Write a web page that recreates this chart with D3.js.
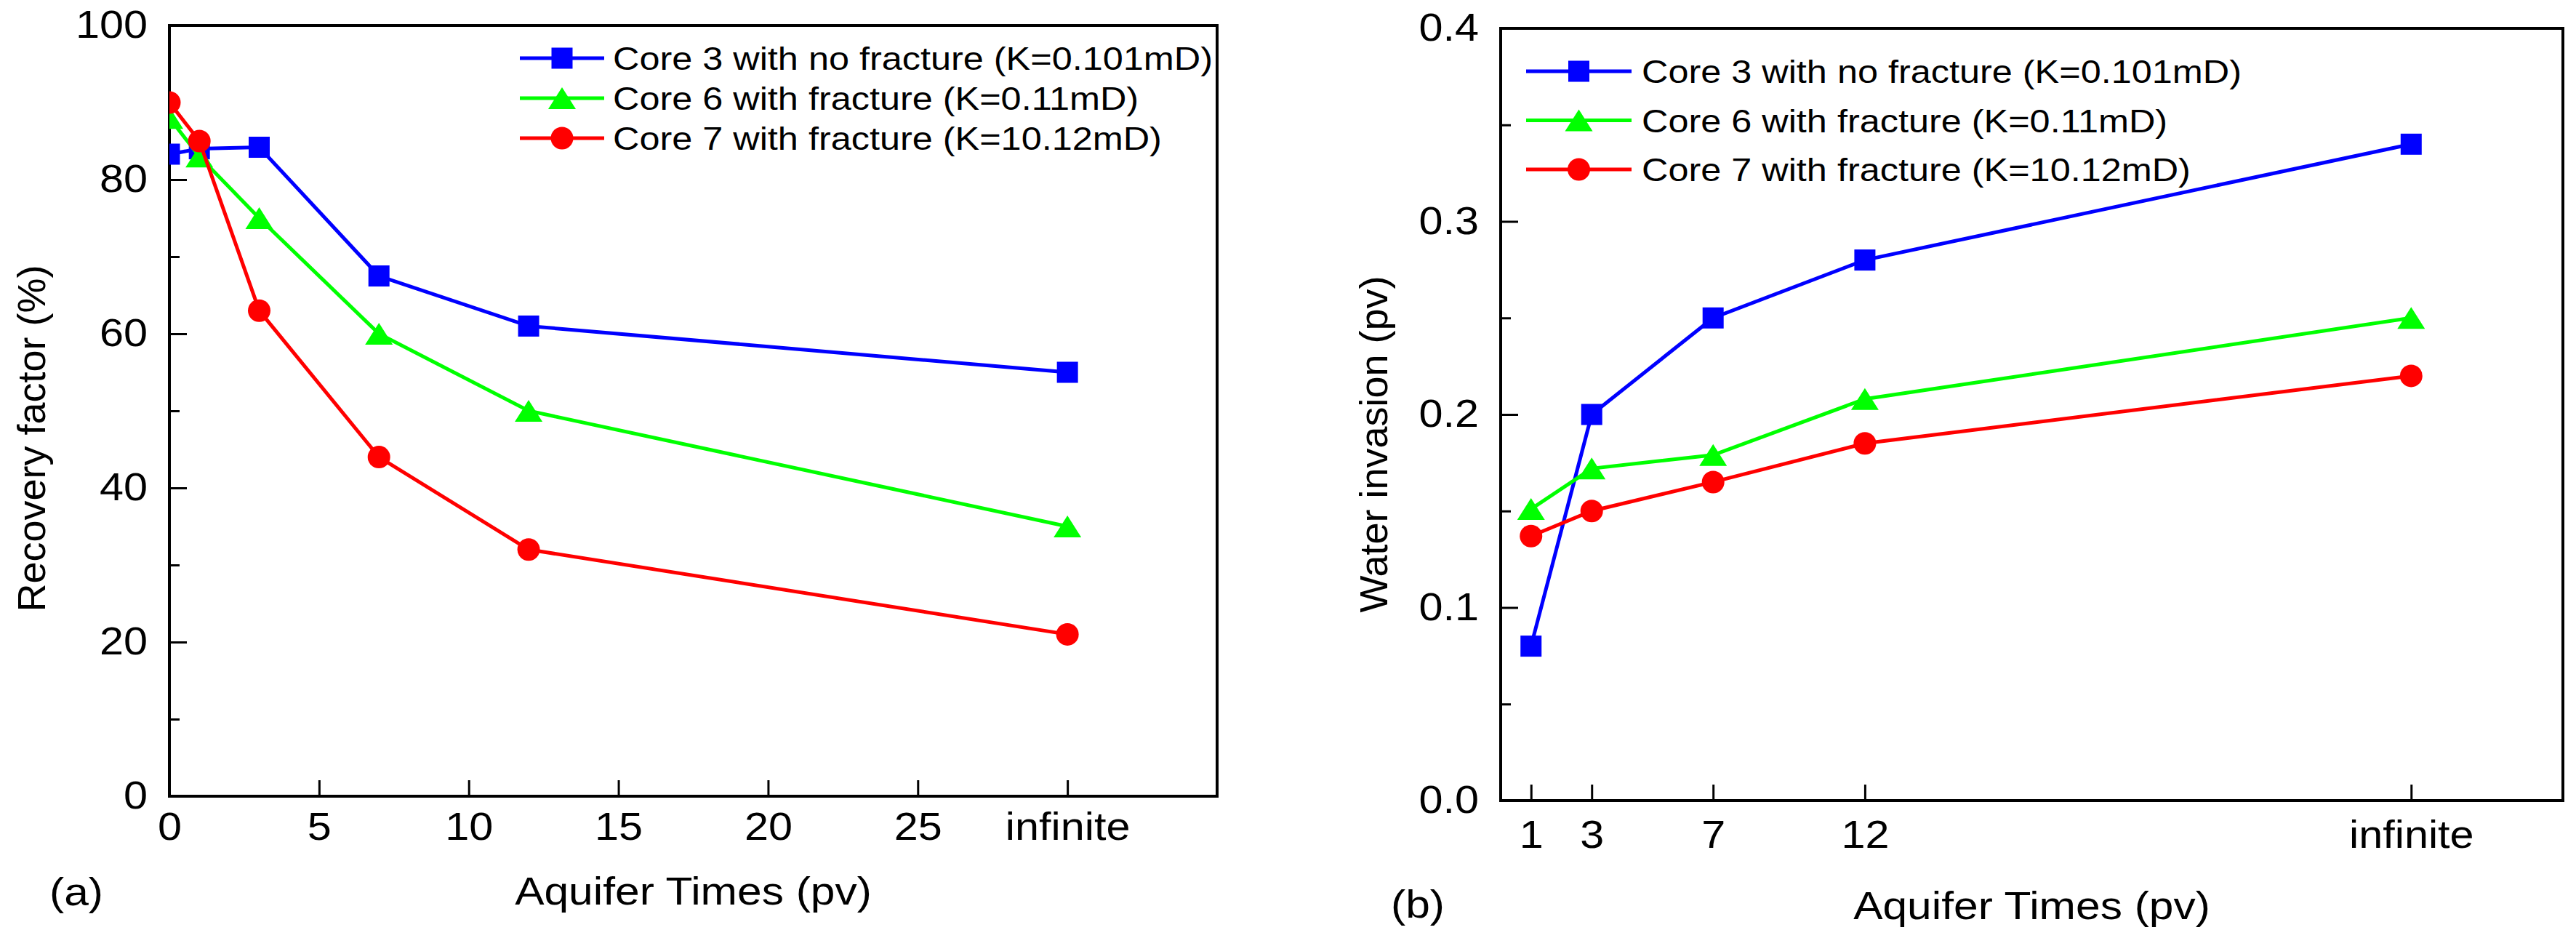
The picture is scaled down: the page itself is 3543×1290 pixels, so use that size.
<!DOCTYPE html>
<html>
<head>
<meta charset="utf-8">
<script src="https://cdn.jsdelivr.net/npm/d3@7"></script>
<style>
  body { margin: 0; background: #fff; }
  text { font-family: "Liberation Sans", Arial, sans-serif; fill: #000; }
</style>
</head>
<body>
<div id="chart"></div>
<script>
// Series data
const seriesNames = [
  "Core 3 with no fracture (K=0.101mD)",
  "Core 6 with fracture (K=0.11mD)",
  "Core 7 with fracture (K=10.12mD)"
];
const seriesColors = ["#0000ff", "#00ff00", "#ff0000"];
const seriesShapes = ["square", "triangle", "circle"];

// panel (a): recovery factor, "infinite" plotted at 30
const aquiferA = [0, 1, 3, 7, 12, 30];
const core3A = [83.3, 84, 84.2, 67.5, 61, 55];
const core6A = [88, 83, 75, 60, 50, 35];
const core7A = [90, 85, 63, 44, 32, 21];
const xTicksA = [0, 5, 10, 15, 20, 25, 30];
const xTickLabelsA = ["0", "5", "10", "15", "20", "25", "infinite"];

// panel (b): water invasion
const aquiferB = [1, 3, 7, 12, 30];
const core3B = [0.08, 0.2, 0.25, 0.28, 0.34];
const core6B = [0.151, 0.172, 0.179, 0.208, 0.25];
const core7B = [0.137, 0.15, 0.165, 0.185, 0.22];
const xTicksB = [1, 3, 7, 12, 30];
const xTickLabelsB = ["1", "3", "7", "12", "infinite"];

const W = 3543, H = 1290;
const STRETCH = 1.12;   // source picture is a bit wider than tall

const svg = d3.select("#chart").append("svg")
  .attr("width", W)
  .attr("height", H);

svg.append("rect").attr("width", W).attr("height", H).attr("fill", "#fff");

// widen horizontal texts to match the source
function stretch(sel) {
  sel.each(function() {
    const w = this.getComputedTextLength();
    d3.select(this)
      .attr("textLength", w * STRETCH)
      .attr("lengthAdjust", "spacingAndGlyphs");
  });
}

function marker(shape) {
  if (shape === "square") return d3.symbol().type(d3.symbolSquare).size(29 * 29)();
  if (shape === "circle") return d3.symbol().type(d3.symbolCircle).size(Math.PI * 15.5 * 15.5)();
  // triangle centred on its box
  return "M0,-15L19,15L-19,15Z";
}

function drawPanel(p) {
  const x = d3.scaleLinear().domain([0, 35]).range([p.left, p.right]);
  const y = d3.scaleLinear().domain(p.yDomain).range([p.bottom, p.top]);

  const g = svg.append("g");

  // minor y ticks
  g.append("g")
    .attr("transform", `translate(${p.left},0)`)
    .call(d3.axisLeft(y).tickValues(p.yMinor).tickSize(-14).tickFormat(""))
    .call(s => s.select(".domain").remove())
    .selectAll("line").attr("stroke-width", 3);

  // major y ticks
  const ya = g.append("g")
    .attr("transform", `translate(${p.left},0)`)
    .call(d3.axisLeft(y).tickValues(p.yMajor).tickSize(-24).tickPadding(30).tickFormat(p.yFormat))
    .call(s => s.select(".domain").remove());
  ya.selectAll("line").attr("stroke-width", 3);
  ya.selectAll("text").attr("font-size", 53).attr("font-family", "Liberation Sans, Arial").call(stretch);

  // x ticks
  const xa = g.append("g")
    .attr("transform", `translate(0,${p.bottom})`)
    .call(d3.axisBottom(x).tickValues(p.xTicks).tickSize(-22).tickPadding(p.xPad)
      .tickFormat((d, i) => p.xLabels[i]))
    .call(s => s.select(".domain").remove());
  xa.selectAll("line").attr("stroke-width", 3);
  xa.selectAll("text").attr("font-size", 53).attr("font-family", "Liberation Sans, Arial").call(stretch);

  // frame
  g.append("rect")
    .attr("x", p.left).attr("y", p.top)
    .attr("width", p.right - p.left).attr("height", p.bottom - p.top)
    .attr("fill", "none").attr("stroke", "#000").attr("stroke-width", 4);

  // clip for the data
  const clipId = "clip-" + p.id;
  svg.append("clipPath").attr("id", clipId)
    .append("rect")
    .attr("x", p.left).attr("y", p.top)
    .attr("width", p.right - p.left).attr("height", p.bottom - p.top);

  const plot = g.append("g").attr("clip-path", `url(#${clipId})`);
  const line = d3.line().x(d => x(d[0])).y(d => y(d[1]));

  p.series.forEach((vals, k) => {
    const pts = p.xs.map((xv, i) => [xv, vals[i]]);
    plot.append("path")
      .datum(pts)
      .attr("d", line)
      .attr("fill", "none")
      .attr("stroke", seriesColors[k])
      .attr("stroke-width", 5);
    plot.selectAll(null)
      .data(pts)
      .enter().append("path")
      .attr("d", marker(seriesShapes[k]))
      .attr("transform", d => `translate(${x(d[0])},${y(d[1])})`)
      .attr("fill", seriesColors[k]);
  });

  // legend
  const lg = g.selectAll(".legend-" + p.id)
    .data(seriesNames)
    .enter().append("g")
    .attr("transform", (d, i) => `translate(0,${p.legY + i * p.legStep})`);
  lg.append("line")
    .attr("x1", p.legX1).attr("x2", p.legX2)
    .attr("stroke", (d, i) => seriesColors[i])
    .attr("stroke-width", 5);
  lg.append("path")
    .attr("d", (d, i) => marker(seriesShapes[i]))
    .attr("transform", `translate(${(p.legX1 + p.legX2) / 2},0)`)
    .attr("fill", (d, i) => seriesColors[i]);
  lg.append("text")
    .attr("x", p.legText)
    .attr("dy", "0.36em")
    .attr("font-size", 45)
    .text(d => d)
    .call(stretch);

  // axis titles
  g.append("text")
    .attr("x", (p.left + p.right) / 2)
    .attr("y", p.xTitleY)
    .attr("text-anchor", "middle")
    .attr("font-size", 54)
    .text("Aquifer Times (pv)")
    .call(stretch);

  g.append("text")
    .attr("transform", `translate(${p.yTitleX},${p.yTitleCy}) rotate(-90)`)
    .attr("text-anchor", "middle")
    .attr("font-size", 54)
    .text(p.yTitle);

  g.append("text")
    .attr("x", p.tagX)
    .attr("y", p.tagY)
    .attr("font-size", 54)
    .text(p.tag)
    .call(stretch);
}

drawPanel({
  id: "a",
  left: 233, right: 1674, top: 35, bottom: 1095,
  yDomain: [0, 100],
  yMajor: d3.range(0, 101, 20),
  yMinor: d3.range(10, 100, 20),
  yFormat: d3.format("d"),
  xTicks: xTicksA, xLabels: xTickLabelsA, xPad: 22,
  xs: aquiferA,
  series: [core3A, core6A, core7A],
  legX1: 715, legX2: 831, legText: 843, legY: 80, legStep: 55,
  xTitleY: 1244,
  yTitle: "Recovery factor (%)", yTitleX: 62, yTitleCy: 603,
  tag: "(a)", tagX: 68, tagY: 1245
});

drawPanel({
  id: "b",
  left: 2064, right: 3525, top: 39, bottom: 1101,
  yDomain: [0, 0.4],
  yMajor: [0, 0.1, 0.2, 0.3, 0.4],
  yMinor: [0.05, 0.15, 0.25, 0.35],
  yFormat: d3.format(".1f"),
  xTicks: xTicksB, xLabels: xTickLabelsB, xPad: 27,
  xs: aquiferB,
  series: [core3B, core6B, core7B],
  legX1: 2099, legX2: 2244, legText: 2258, legY: 98, legStep: 67.5,
  xTitleY: 1264,
  yTitle: "Water invasion (pv)", yTitleX: 1908, yTitleCy: 611,
  tag: "(b)", tagX: 1913, tagY: 1262
});
</script>
</body>
</html>
